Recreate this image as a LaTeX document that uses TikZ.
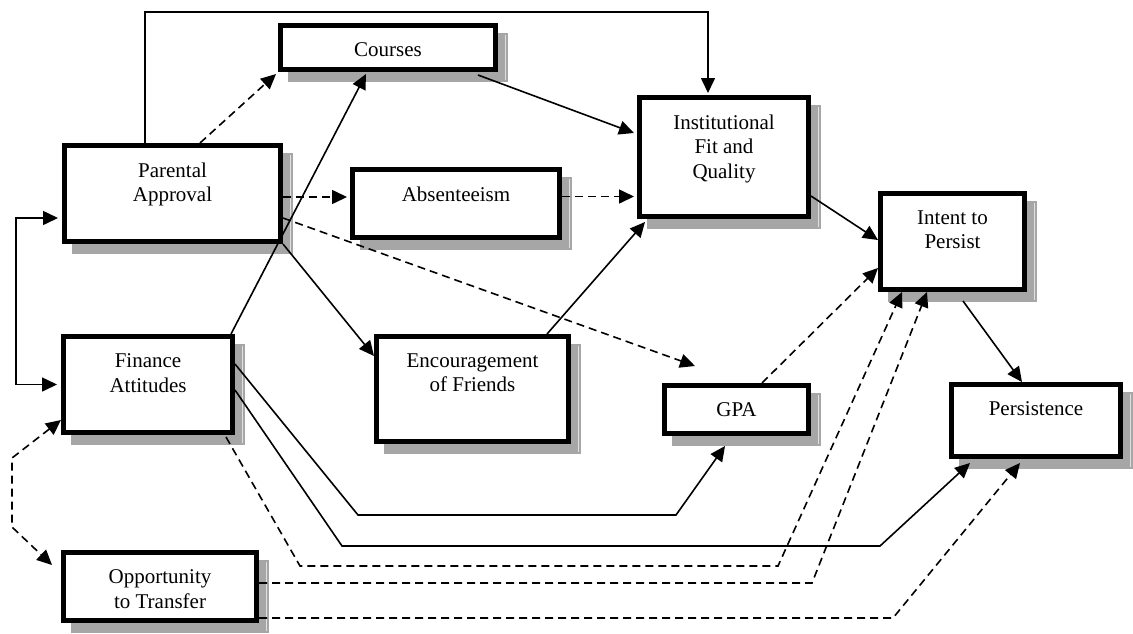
\documentclass[tikz,border=0pt]{standalone}
\usepackage{fontspec}
\setmainfont{Liberation Serif}
\usetikzlibrary{arrows.meta,calc,backgrounds}
\begin{document}
\begin{tikzpicture}[x=1pt,y=-1pt,
  >={Triangle[length=15pt,width=14pt]},
  box/.style={draw, line width=5pt, fill=white, outer sep=2.5pt, inner sep=0pt},
  lab/.style={anchor=north, inner sep=0pt, yshift=-19.5pt, align=center, font=\fontsize{21}{24.5}\selectfont},
  conn/.style={line width=1.6pt, ->},
  dconn/.style={line width=1.6pt, ->, dash pattern=on 8pt off 5pt},
  shadowc/.style={fill=black!35}]
\useasboundingbox (0,0) rectangle (1133,633);

% boxes
\node[box, minimum width=216pt, minimum height=96pt, label={[lab]north:Parental\\Approval}] (pa) at (172.5,193.5) {};
\node[box, minimum width=215pt, minimum height=44pt, label={[lab]north:Courses}] (co) at (388,47.5) {};
\node[box, minimum width=207pt, minimum height=68pt, label={[lab]north:Absenteeism}] (ab) at (456,203.5) {};
\node[box, minimum width=169pt, minimum height=119pt, label={[lab]north:Institutional\\Fit and\\Quality}] (inst) at (724,157) {};
\node[box, minimum width=144pt, minimum height=96pt, label={[lab]north:Intent to\\Persist}] (it) at (952.5,241.5) {};
\node[box, minimum width=169pt, minimum height=72pt, label={[lab]north:Persistence}] (pe) at (1036,420.5) {};
\node[box, minimum width=144pt, minimum height=48pt, label={[lab]north:GPA}] (gpa) at (736.5,409.5) {};
\node[box, minimum width=192pt, minimum height=105pt, label={[lab]north:Encouragement\\of Friends}] (enc) at (472.5,389) {};
\node[box, minimum width=169pt, minimum height=96pt, label={[lab]north:Finance\\Attitudes}] (fa) at (148,384.5) {};
\node[box, minimum width=193pt, minimum height=68pt, label={[lab]north:Opportunity\\to Transfer}] (ot) at (160,586.5) {};

% shadows
\begin{pgfonlayer}{background}
\foreach \n in {pa,co,ab,inst,it,pe,gpa,enc,fa,ot}{
  \fill[shadowc] ($(\n.north west)+(10,10)$) rectangle ($(\n.south east)+(10,10)$);
  \draw[black!12, line width=0.8pt] ($(\n.north east)+(7,12)$) -- ($(\n.south east)+(7,8)$);
}
\end{pgfonlayer}

% connectors
\draw[conn] ($(pa.north)+(-27.5,0)$) -- ++(0,-131) -| ($(inst.north)+(-16,-2)$);
\draw[dconn] ($(pa.north)+(27.5,0)$) -- ($(co.south west)+(-2,2)$);
\draw[conn] ($(fa.north east)+(-4,0)$) -- ($(co.south west)+(88,2)$);
\draw[conn] ($(co.south east)+(-20,3)$) -- ($(inst.west)+(-3,-24)$);
\draw[dconn] ($(pa.east)+(0,3.5)$) -- ($(ab.west)+(-3,-6.5)$);
\draw[dconn] ($(ab.east)+(0,-7)$) -- ($(inst.west)+(-3,39.5)$);
\draw[dconn] ($(pa.east)+(0,24.5)$) -- ($(gpa.north)+(-41.5,-17)$);
\draw[conn] (pa.south east) -- ($(enc.north west)+(0,22)$);
\draw[conn] ($(enc.north east)+(-24,0)$) -- ($(inst.south west)+(8,3)$);
\draw[conn] ($(inst.east)+(0,39)$) -- ($(it.west)+(0,-1.5)$);
\draw[dconn] ($(gpa.north east)+(-49,0)$) -- ($(it.west)+(0,26.5)$);
\draw[conn] ($(it.south)+(10.5,9)$) -- ($(pe.north)+(-14,0)$);
\draw[conn] ($(fa.east)+(0,-20.5)$) -- (358,515) -- (676,515) -- ($(gpa.south)+(-11.5,10)$);
\draw[conn] ($(fa.east)+(0,5.5)$) -- (342,546) -- (880,546) -- ($(pe.south west)+(21,4)$);
\draw[dconn] ($(fa.south east)+(-9,2)$) -- (300,566) -- (778,566) -- ($(it.south west)+(24,0)$);
\draw[dconn] ($(ot.east)+(0,-3.5)$) -- (812,583) -- ($(it.south west)+(49,0)$);
\draw[dconn] ($(ot.east)+(0,31.5)$) -- (893,618) -- ($(pe.south)+(-16,4)$);
\draw[conn, <->] ($(pa.west)+(-4,24.5)$) -- ++(-42,0) |- ($(fa.west)+(-4,0)$);
\draw[dconn, <->] ($(fa.south west)+(0,-15)$) -- (12,458) -- (12,527) -- ($(ot.north west)+(-9,15)$);
\end{tikzpicture}
\end{document}
